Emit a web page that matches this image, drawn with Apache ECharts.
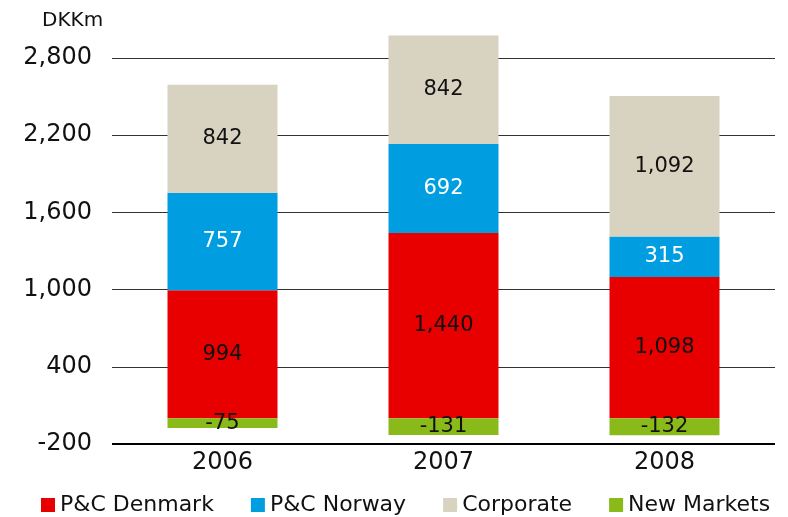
<!DOCTYPE html>
<html>
<head>
<meta charset="utf-8">
<script src="https://cdn.jsdelivr.net/npm/echarts@6/dist/echarts.min.js"></script>
<style>
  html, body { margin: 0; padding: 0; background: #fff; }
  #chart { width: 788px; height: 517px; }
</style>
</head>
<body>
<div id="chart"></div>
<script>
const years = ["2006", "2007", "2008"];
const pcDenmark = [994, 1440, 1098];
const pcNorway = [757, 692, 315];
const corporate = [842, 842, 1092];
const newMarkets = [-75, -131, -132];

const font = "DejaVu Sans";
const chart = echarts.init(document.getElementById("chart"));

function fmt(v) {
  return v.toLocaleString("en-US");
}

function barSeries(name, data, color, labelColor) {
  return {
    name: name,
    type: "bar",
    stack: "total",
    data: data,
    barWidth: 110,
    clip: false,
    itemStyle: { color: color },
    label: {
      show: true,
      position: "inside",
      color: labelColor,
      fontFamily: font,
      fontSize: 21,
      formatter: (p) => fmt(p.value),
    },
  };
}

const option = {
  animation: false,
  backgroundColor: "#fff",
  title: {
    text: "DKKm",
    left: 37,
    top: 6,
    textStyle: { fontFamily: font, fontSize: 20, fontWeight: "normal", color: "#111" },
  },
  grid: { left: 112, right: 13, top: 58, bottom: 73 },
  legend: {
    top: 494,
    left: 41,
    padding: 0,
    itemWidth: 14,
    itemHeight: 14,
    itemGap: 37,
    icon: "rect",
    textStyle: { fontFamily: font, fontSize: 22, color: "#111" },
    data: ["P&C Denmark", "P&C Norway", "Corporate", "New Markets"],
  },
  xAxis: {
    type: "category",
    data: years,
    axisTick: { show: false },
    axisLine: { show: false },
    axisLabel: { fontFamily: font, fontSize: 24, color: "#111", margin: 7 },
  },
  yAxis: {
    type: "value",
    min: -200,
    max: 2800,
    interval: 600,
    axisLabel: {
      fontFamily: font,
      fontSize: 24,
      color: "#111",
      margin: 20,
      formatter: (v) => fmt(v),
    },
    splitLine: {
      lineStyle: { color: "#333", width: 1.2 },
    },
  },
  series: [
    barSeries("P&C Denmark", pcDenmark, "#e80000", "#111"),
    barSeries("P&C Norway", pcNorway, "#009ee0", "#fff"),
    barSeries("Corporate", corporate, "#d8d2c0", "#111"),
    barSeries("New Markets", newMarkets, "#8aba1a", "#111"),
    {
      type: "line",
      data: [],
      markLine: {
        silent: true,
        symbol: "none",
        label: { show: false },
        lineStyle: { color: "#000", width: 2, type: "solid" },
        data: [{ yAxis: -200 }],
      },
    },
  ],
};
chart.setOption(option);
window.addEventListener("resize", chart.resize);
</script>
</body>
</html>
